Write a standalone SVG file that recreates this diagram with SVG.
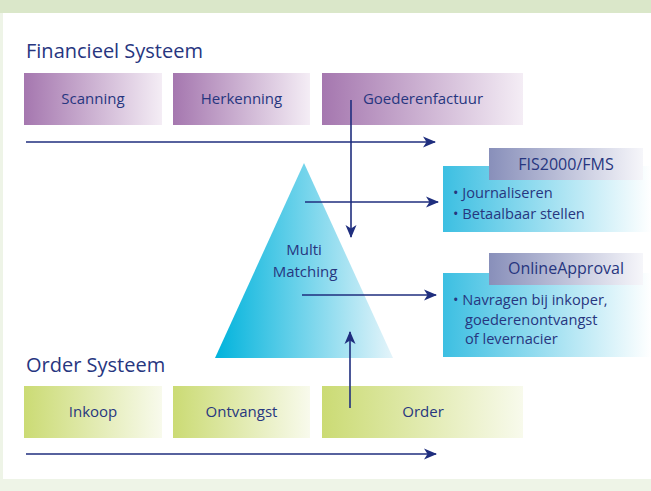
<svg xmlns="http://www.w3.org/2000/svg" width="651" height="491" viewBox="0 0 651 491">
<defs>
<linearGradient id="gPurple" x1="0" y1="0" x2="1" y2="0"><stop offset="0" stop-color="#a577af"/><stop offset="1" stop-color="#f4edf5"/></linearGradient>
<linearGradient id="gGreen" x1="0" y1="0" x2="1" y2="0"><stop offset="0" stop-color="#cbdb74"/><stop offset="1" stop-color="#f8faec"/></linearGradient>
<linearGradient id="gTri" x1="0" y1="0" x2="1" y2="0"><stop offset="0" stop-color="#00b3dc"/><stop offset="1" stop-color="#e4f4fa"/></linearGradient>
<linearGradient id="gCyan" x1="0" y1="0" x2="1" y2="0"><stop offset="0" stop-color="#3cbfe2"/><stop offset="1" stop-color="#ffffff"/></linearGradient>
<linearGradient id="gTab" x1="0" y1="0" x2="1" y2="0"><stop offset="0" stop-color="#888fba"/><stop offset="1" stop-color="#f6f6fa"/></linearGradient>
<marker id="ah" markerUnits="userSpaceOnUse" markerWidth="14" markerHeight="12" refX="12" refY="6" orient="auto"><path d="M0,0.5 L13,6 L0,11.5 L3.5,6 z" fill="#1f2e7e"/></marker>
<style>
.t{font-family:"Open Sans","Noto Sans","Liberation Sans",sans-serif;fill:#27367f}
.h{font-size:20px}
.b{font-size:15px;text-anchor:middle}
.tab{font-size:16px;text-anchor:middle}
.s{font-size:14.6px}
.c{stroke:#1f2e7e;stroke-width:1.6;fill:none;marker-end:url(#ah)}
</style>
</defs>
<rect x="0" y="0" width="651" height="491" fill="#eef4e7"/>
<rect x="0" y="0" width="651" height="13" fill="#dae7c9"/>
<rect x="3" y="13" width="648" height="466" fill="#ffffff"/>
<text class="t h" x="26" y="58">Financieel Systeem</text>
<text class="t h" x="26" y="372">Order Systeem</text>
<g id="scanning"><rect x="24" y="73" width="138" height="52" fill="url(#gPurple)"/><text class="t b" x="93" y="104">Scanning</text></g>
<g id="herkenning"><rect x="173" y="73" width="137" height="52" fill="url(#gPurple)"/><text class="t b" x="241.5" y="104">Herkenning</text></g>
<g id="goederenfactuur"><rect x="322" y="73" width="201" height="52" fill="url(#gPurple)"/><text class="t b" x="423" y="104">Goederenfactuur</text></g>
<g id="inkoop"><rect x="24" y="386" width="138" height="52" fill="url(#gGreen)"/><text class="t b" x="93" y="417">Inkoop</text></g>
<g id="ontvangst"><rect x="173" y="386" width="137" height="52" fill="url(#gGreen)"/><text class="t b" x="241.5" y="417">Ontvangst</text></g>
<g id="order"><rect x="322" y="386" width="201" height="52" fill="url(#gGreen)"/><text class="t b" x="423" y="417">Order</text></g>
<g id="multimatching"><polygon points="304,163 215,358 393,358" fill="url(#gTri)"/><text class="t b" x="304" y="255">Multi</text><text class="t b" x="305" y="277">Matching</text></g>
<g id="fis2000"><rect x="443" y="166" width="208" height="66" fill="url(#gCyan)"/><rect x="489" y="148" width="154" height="32" fill="url(#gTab)"/><text class="t tab" x="566" y="170">FIS2000/FMS</text><text class="t s" x="453" y="198">• Journaliseren</text><text class="t s" x="453" y="219">• Betaalbaar stellen</text></g>
<g id="onlineapproval"><rect x="443" y="273" width="208" height="84" fill="url(#gCyan)"/><rect x="489" y="253" width="154" height="32" fill="url(#gTab)"/><text class="t tab" x="566" y="274">OnlineApproval</text><text class="t s" x="453" y="305">• Navragen bij inkoper,</text><text class="t s" x="465" y="325">goederenontvangst</text><text class="t s" x="465" y="344">of levernacier</text></g>
<g id="connectors">
<line class="c" x1="26" y1="142" x2="435" y2="142"/>
<line class="c" x1="26" y1="454" x2="436" y2="454"/>
<line class="c" x1="351" y1="100" x2="351" y2="237"/>
<line class="c" x1="350" y1="408" x2="350" y2="332"/>
<line class="c" x1="305" y1="202" x2="438" y2="202"/>
<line class="c" x1="302" y1="295" x2="436" y2="295"/>
</g>
</svg>
